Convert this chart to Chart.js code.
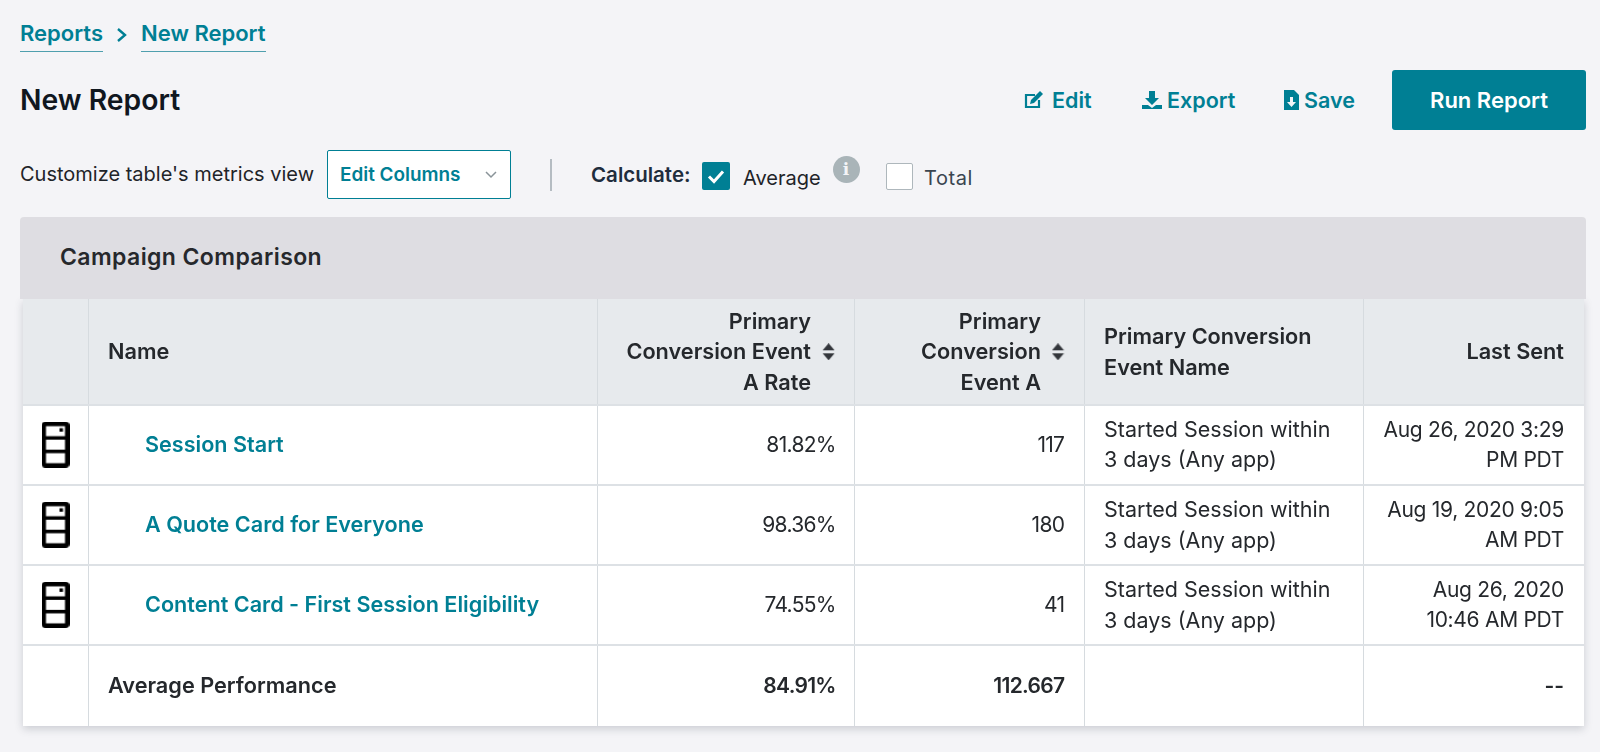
<!DOCTYPE html>
<html>
<head>
<meta charset="utf-8">
<title>New Report</title>
<script src="https://cdn.jsdelivr.net/npm/chart.js@4"></script>
<style>
  html, body { margin: 0; padding: 0; width: 1600px; height: 752px; overflow: hidden; background: #f4f4f7; font-family: Inter, sans-serif; color: #1f2429; }
  .abs { position: absolute; white-space: nowrap; line-height: 30px; }
  .link { color: #007f94; font-weight: 600; font-size: 21.5px; }
  .crumb { border-bottom: 1.5px solid #4f9fae; height: 33px; font-size: 22px; }
  .box { position: absolute; box-sizing: border-box; }
  #panel-head { left: 20px; top: 217px; width: 1566px; height: 82px; background: #dedde2; border-radius: 4px 4px 0 0; z-index: 2; }
  #panel-title { left: 60px; top: 242px; font-size: 23px; letter-spacing: .4px; font-weight: 600; color: #26282c; z-index: 3; }
  #chart-wrap { position: absolute; left: 23px; top: 299px; width: 1561px; height: 427px; background: #fff; box-shadow: 0 3px 8px rgba(60,70,80,.22); }
</style>
</head>
<body>
<a class="abs link crumb" style="left:20px;top:18px">Reports</a>
<svg class="abs" style="left:115px;top:27px" width="14" height="16" viewBox="0 0 14 16"><path d="M3 2l7 6-7 6" fill="none" stroke="#007f94" stroke-width="2.4"/></svg>
<a class="abs link crumb" style="left:141px;top:18px">New Report</a>
<div class="abs" style="left:20px;top:85px;font-size:28.3px;font-weight:600;color:#10171f">New Report</div>

<svg class="abs" style="left:1024px;top:90px" width="21" height="20" viewBox="0 0 21 20"><path d="M15 10v7H2V5h9" fill="none" stroke="#007f94" stroke-width="2.2"/><path d="M7 10l9-9 3 3-9 9-4 1z" fill="#007f94"/></svg>
<div class="abs link" style="left:1052px;top:85px">Edit</div>
<svg class="abs" style="left:1142px;top:90px" width="20" height="20" viewBox="0 0 20 20"><path d="M7 1h6v7h4l-7 7-7-7h4z" fill="#007f94"/><path d="M0 15h6l4 3 4-3h6v4H0z" fill="#007f94"/></svg>
<div class="abs link" style="left:1167px;top:85px">Export</div>
<svg class="abs" style="left:1284px;top:90px" width="15" height="20" viewBox="0 0 15 20"><path d="M0 0h10l5 5v15H0z" fill="#007f94"/><path d="M6 7h3v5h3l-4.500 5L3 12h3z" fill="#f4f4f7"/></svg>
<div class="abs link" style="left:1304px;top:85px">Save</div>
<div class="abs" style="left:1392px;top:70px;width:194px;height:60px;line-height:60px;text-align:center;background:#007f94;border-radius:3px;color:#fff;font-weight:600;font-size:22px">Run Report</div>

<div class="abs" style="left:20px;top:159px;font-size:20px;font-weight:400">Customize table's metrics view</div>
<div class="box" style="left:326.500px;top:150px;width:184px;height:49px;background:#fff;border:1.5px solid #007f94;border-radius:2px"></div>
<div class="abs link" style="left:340px;top:160px;font-size:18.9px">Edit Columns</div>
<svg class="abs" style="left:485px;top:171px" width="12" height="8" viewBox="0 0 12 8"><path d="M1 1l5 5 5-5" fill="none" stroke="#8a9499" stroke-width="1.500"/></svg>
<div class="box" style="left:550px;top:159px;width:1.500px;height:32px;background:#b5bcc2"></div>

<div class="abs" style="left:591px;top:160px;font-size:20.5px;font-weight:600;color:#1f2d3d">Calculate:</div>
<div class="box" style="left:702px;top:162px;width:28px;height:28px;background:#007f94;border-radius:2px"></div>
<svg class="abs" style="left:702px;top:162px" width="28" height="28" viewBox="0 0 28 28"><path d="M7 14.500l5 5 9-10" fill="none" stroke="#fff" stroke-width="3"/></svg>
<div class="abs" style="left:743px;top:163px;font-size:20px">Average</div>
<div class="box" style="left:832.500px;top:156px;width:27px;height:27px;background:#a9b4b8;border-radius:50%"></div>
<div class="abs" style="left:832.500px;top:156px;width:27px;height:27px;line-height:27px;text-align:center;font-size:17px;font-weight:700;font-family:'DejaVu Serif',serif;color:#f4f4f7">i</div>
<div class="box" style="left:886px;top:163px;width:27px;height:27px;background:#fff;border:1.5px solid #aeb7bc;border-radius:2px"></div>
<div class="abs" style="left:924px;top:163px;font-size:20px;letter-spacing:.6px;color:#3a4550">Total</div>

<div class="box" id="panel-head"></div>
<div class="abs" id="panel-title">Campaign Comparison</div>

<div id="chart-wrap"><canvas id="reportTable"></canvas></div>

<script>
// --- DADOS DA TABELA ---
const campaignNames = ['Session Start', 'A Quote Card for Everyone', 'Content Card - First Session Eligibility'];
const conversionRates = [81.82, 98.36, 74.55];
const conversionCounts = [117, 180, 41];
const conversionEventNames = [
    ['Started Session within', '3 days (Any app)'],
    ['Started Session within', '3 days (Any app)'],
    ['Started Session within', '3 days (Any app)']
];
const lastSentDates = [
    ['Aug 26, 2020 3:29', 'PM PDT'],
    ['Aug 19, 2020 9:05', 'AM PDT'],
    ['Aug 26, 2020', '10:46 AM PDT']
];
const averageLabel = 'Average Performance';
const averageRate = 84.91;
const averageCount = 112.667;
const averageLastSent = '--';

const headerName = ['Name'];
const headerRate = ['Primary', 'Conversion Event', 'A Rate'];
const headerCount = ['Primary', 'Conversion', 'Event A'];
const headerEventName = ['Primary Conversion', 'Event Name'];
const headerLastSent = ['Last Sent'];

// --- LAYOUT (unidades das escalas = px do canvas) ---
const columnEdges = [0, 65.3, 574, 831.5, 1061.2, 1340.3, 1561];
const rowEdges = [0, 105.6, 185.7, 265.8, 345.9, 427];
const rowCenter = i => (rowEdges[i] + rowEdges[i + 1]) / 2;
const bodyRows = [1, 2, 3];

const teal = '#007f94';
const ink = '#25282c';
const bodyFont = '400 21.5px Inter';
const numberFont = '400 21px Inter';
const boldFont = '600 21.7px Inter';
const boldNumberFont = '600 21px Inter';

// Ícone do dispositivo
function makeDeviceIcon() {
    const c = document.createElement('canvas');
    c.width = 28;
    c.height = 46;
    const g = c.getContext('2d');
    g.fillStyle = '#000';
    g.beginPath();
    g.roundRect(0, 0, 28, 46, 4);
    g.fill();
    g.fillStyle = '#fff';
    [4.5, 18, 31.5].forEach(y => g.fillRect(4.5, y, 19, 10));
    g.fillStyle = '#000';
    g.fillRect(18, 6.5, 3.5, 3.5);
    return c;
}

// Setas de ordenação
function makeSortIcon() {
    const c = document.createElement('canvas');
    c.width = 13;
    c.height = 17;
    const g = c.getContext('2d');
    g.fillStyle = '#33363b';
    g.beginPath();
    g.moveTo(6.5, 0); g.lineTo(12.5, 7); g.lineTo(0.5, 7); g.closePath();
    g.moveTo(0.5, 10); g.lineTo(12.5, 10); g.lineTo(6.5, 17); g.closePath();
    g.fill();
    return c;
}

function textSet(label, x, rows, texts, align, font, color, spacing) {
    return {
        label, texts, textAlign: align, textFont: font, textColor: color, textSpacing: spacing || 0,
        data: rows.map(r => ({ x, y: rowCenter(r) })),
        pointRadius: 0
    };
}

// Desenha o texto de cada célula na posição do ponto
const cellTextPlugin = {
    id: 'cellText',
    beforeDraw(chart) {
        const { ctx, scales: { x, y } } = chart;
        ctx.save();
        ctx.fillStyle = '#e7eaed';
        ctx.fillRect(x.left, y.getPixelForValue(rowEdges[0]), x.width, y.getPixelForValue(rowEdges[1]) - y.getPixelForValue(rowEdges[0]));
        ctx.restore();
    },
    afterDatasetsDraw(chart) {
        const ctx = chart.ctx;
        chart.data.datasets.forEach((ds, i) => {
            if (!ds.texts) return;
            chart.getDatasetMeta(i).data.forEach((pt, j) => {
                const lines = [].concat(ds.texts[j]);
                ctx.save();
                ctx.font = ds.textFont;
                ctx.letterSpacing = ds.textSpacing + 'px';
                ctx.fillStyle = ds.textColor;
                ctx.textAlign = ds.textAlign;
                ctx.textBaseline = 'middle';
                lines.forEach((line, k) => {
                    ctx.fillText(line, pt.x, pt.y + 1 + (k - (lines.length - 1) / 2) * 30.6);
                });
                ctx.restore();
            });
        });
    }
};

const rateLabels = conversionRates.map(v => v.toFixed(2) + '%');
const countLabels = conversionCounts.map(String);

const datasets = [
    textSet('header name', 85, [0], [headerName], 'left', boldFont, ink),
    textSet('header rate', 788, [0], [headerRate], 'right', boldFont, ink),
    textSet('header count', 1018, [0], [headerCount], 'right', boldFont, ink),
    textSet('header event', 1081, [0], [headerEventName], 'left', boldFont, ink),
    textSet('header sent', 1541, [0], [headerLastSent], 'right', boldFont, ink),
    textSet('campaign', 122, bodyRows, campaignNames, 'left', '600 21.6px Inter', teal),
    textSet('rate', 812.7, bodyRows, rateLabels, 'right', numberFont, ink, -0.7),
    textSet('count', 1041.3, bodyRows, countLabels, 'right', numberFont, ink, -0.7),
    textSet('event', 1081, bodyRows, conversionEventNames, 'left', bodyFont, ink),
    textSet('sent', 1541, bodyRows, lastSentDates, 'right', numberFont, ink, -0.3),
    textSet('average label', 85, [4], [averageLabel], 'left', boldFont, ink),
    textSet('average rate', 812.7, [4], [averageRate.toFixed(2) + '%'], 'right', boldNumberFont, ink, -0.7),
    textSet('average count', 1041.3, [4], [String(averageCount)], 'right', boldNumberFont, ink, -0.7),
    textSet('average sent', 1541, [4], [averageLastSent], 'right', boldNumberFont, ink),
    {
        label: 'sort',
        data: [805.6, 1035].map(x => ({ x, y: rowCenter(0) })),
        pointStyle: makeSortIcon(),
        pointRadius: 5
    },
    {
        label: 'device',
        data: bodyRows.map(r => ({ x: 32.5, y: rowCenter(r) })),
        pointStyle: makeDeviceIcon(),
        pointRadius: 5
    }
];

new Chart(document.getElementById('reportTable'), {
    type: 'scatter',
    data: { datasets },
    options: {
        responsive: true,
        maintainAspectRatio: false,
        animation: false,
        events: [],
        layout: { padding: 0, autoPadding: false },
        plugins: { legend: { display: false }, tooltip: { enabled: false } },
        scales: {
            x: {
                type: 'linear',
                min: columnEdges[0],
                max: columnEdges[columnEdges.length - 1],
                afterBuildTicks: s => { s.ticks = columnEdges.slice(1, -1).map(value => ({ value })); },
                ticks: { display: false },
                border: { display: false },
                grid: { color: '#d6dbdf', lineWidth: 1, drawTicks: false }
            },
            y: {
                type: 'linear',
                reverse: true,
                min: rowEdges[0],
                max: rowEdges[rowEdges.length - 1],
                afterBuildTicks: s => { s.ticks = rowEdges.slice(1, -1).map(value => ({ value })); },
                ticks: { display: false },
                border: { display: false },
                grid: { color: '#dde1e5', lineWidth: 2, drawTicks: false }
            }
        }
    },
    plugins: [cellTextPlugin]
});
</script>
</body>
</html>
